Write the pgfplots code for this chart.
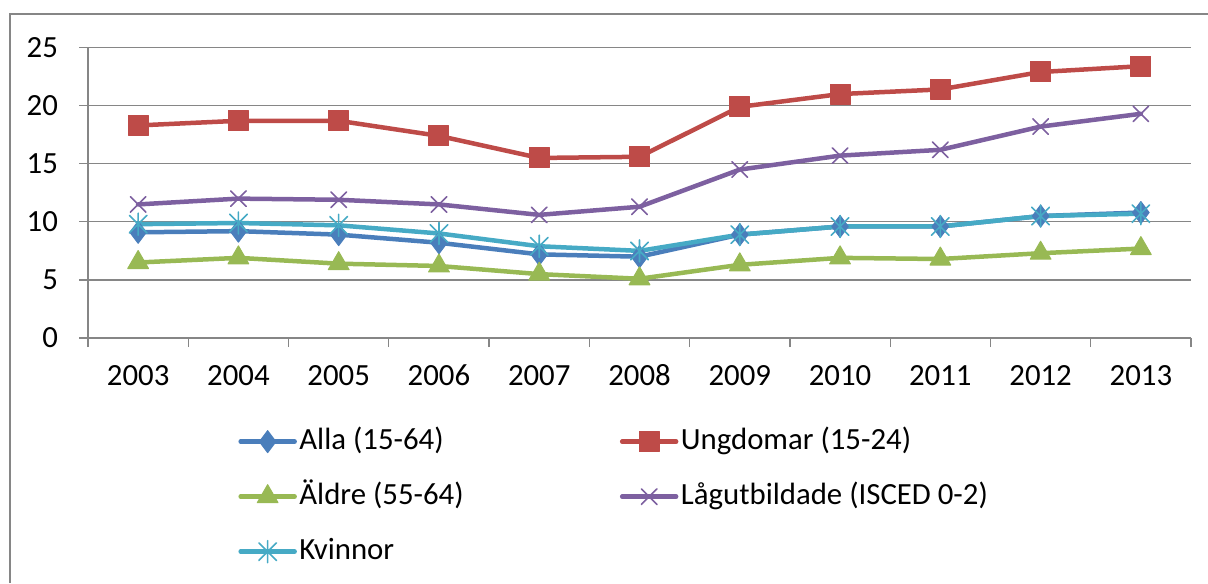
\documentclass[border=0pt]{standalone}
\usepackage{fontspec}
\setmainfont{Carlito}
\usepackage{pgfplots}
\pgfplotsset{compat=1.18}
\definecolor{cAlla}{HTML}{4A7EBB}
\definecolor{cUng}{HTML}{BE4B48}
\definecolor{cAld}{HTML}{98B954}
\definecolor{cLag}{HTML}{7D60A0}
\definecolor{cKv}{HTML}{46AAC5}
\definecolor{gridgray}{HTML}{868686}
\pgfdeclareplotmark{xstar}{%
  \pgfpathmoveto{\pgfqpoint{0pt}{\pgfplotmarksize}}%
  \pgfpathlineto{\pgfqpoint{0pt}{-\pgfplotmarksize}}%
  \pgfpathmoveto{\pgfqpoint{-0.8\pgfplotmarksize}{0.8\pgfplotmarksize}}%
  \pgfpathlineto{\pgfqpoint{0.8\pgfplotmarksize}{-0.8\pgfplotmarksize}}%
  \pgfpathmoveto{\pgfqpoint{-0.8\pgfplotmarksize}{-0.8\pgfplotmarksize}}%
  \pgfpathlineto{\pgfqpoint{0.8\pgfplotmarksize}{0.8\pgfplotmarksize}}%
  \pgfusepathqstroke}
\begin{document}
\begin{tikzpicture}
\path[use as bounding box] (0,0) rectangle (604pt,-291.5pt);
\draw[gridgray, line width=0.6pt] (5pt,-291.5pt) -- (5pt,-7pt) -- (604pt,-7pt);
\begin{axis}[
  at={(44pt,-169pt)}, anchor=south west,
  scale only axis, width=551.5pt, height=145.2pt,
  xmin=-0.5, xmax=10.5, ymin=0, ymax=25,
  ytick={0,5,...,25},
  xtick={-0.5,0.5,...,10.5}, xticklabels={},
  extra x ticks={0,1,...,10},
  extra x tick labels={2003,2004,2005,2006,2007,2008,2009,2010,2011,2012,2013},
  extra x tick style={tick style={draw=none}},
  ymajorgrids,
  major grid style={gridgray, line width=0.6pt},
  axis x line*=bottom, axis y line*=left,
  axis line style={-, gridgray, line width=0.6pt},
  tick style={gridgray, line width=0.6pt},
  tick align=outside, major tick length=4.5pt,
  ticklabel style={font=\fontsize{15.4}{18}\selectfont},
  /pgf/number format/assume math mode=true,
  yticklabel style={xshift=-7pt},
  xticklabel style={yshift=-5.5pt, text height=10pt, text depth=0pt},
  clip=false,
  legend columns=2,
  legend cell align=left,
  legend style={at={(0.136,-0.297)}, anchor=north west, draw=none, fill=none,
    inner sep=0pt, row sep=10.5pt,
    font=\fontsize{15.4}{18}\selectfont,
    nodes={inner sep=1.25pt, text height=11pt, text depth=3.5pt}},
  legend image code/.code={%
    \draw[mark repeat=2, mark phase=2] plot coordinates {(0pt,0pt) (13.5pt,0pt) (27pt,0pt)};},
  every axis plot/.append style={line width=2.25pt, line cap=round, line join=round},
]
\addplot[cAlla, mark=diamond*, mark size=5.5pt, mark options={fill=cAlla, draw=cAlla, line width=0.5pt}]
  coordinates {(0,9.1) (1,9.2) (2,8.9) (3,8.2) (4,7.2) (5,7.0) (6,8.9) (7,9.6) (8,9.6) (9,10.5) (10,10.8)};
\addlegendentry{\makebox[159pt][l]{Alla (15-64)}}
\addplot[cUng, mark=square*, mark size=5pt, mark options={fill=cUng, draw=cUng, line width=0.5pt}]
  coordinates {(0,18.3) (1,18.7) (2,18.7) (3,17.4) (4,15.5) (5,15.6) (6,19.9) (7,21.0) (8,21.4) (9,22.9) (10,23.4)};
\addlegendentry{Ungdomar (15-24)}
\addplot[cAld, mark=triangle*, mark size=6pt, mark options={fill=cAld, draw=cAld, line width=0.5pt}]
  coordinates {(0,6.5) (1,6.9) (2,6.4) (3,6.2) (4,5.5) (5,5.1) (6,6.3) (7,6.9) (8,6.8) (9,7.3) (10,7.7)};
\addlegendentry{\makebox[159pt][l]{Äldre (55-64)}}
\addplot[cLag, mark=x, mark size=5.5pt, mark options={draw=cLag, line width=0.8pt}]
  coordinates {(0,11.5) (1,12.0) (2,11.9) (3,11.5) (4,10.6) (5,11.3) (6,14.5) (7,15.7) (8,16.2) (9,18.2) (10,19.3)};
\addlegendentry{Lågutbildade (ISCED 0-2)}
\addplot[cKv, mark=xstar, mark size=5.5pt, mark options={draw=cKv, line width=0.8pt}]
  coordinates {(0,9.8) (1,9.9) (2,9.7) (3,9.0) (4,7.9) (5,7.5) (6,8.9) (7,9.6) (8,9.6) (9,10.5) (10,10.7)};
\addlegendentry{Kvinnor}
\end{axis}
\end{tikzpicture}
\end{document}
